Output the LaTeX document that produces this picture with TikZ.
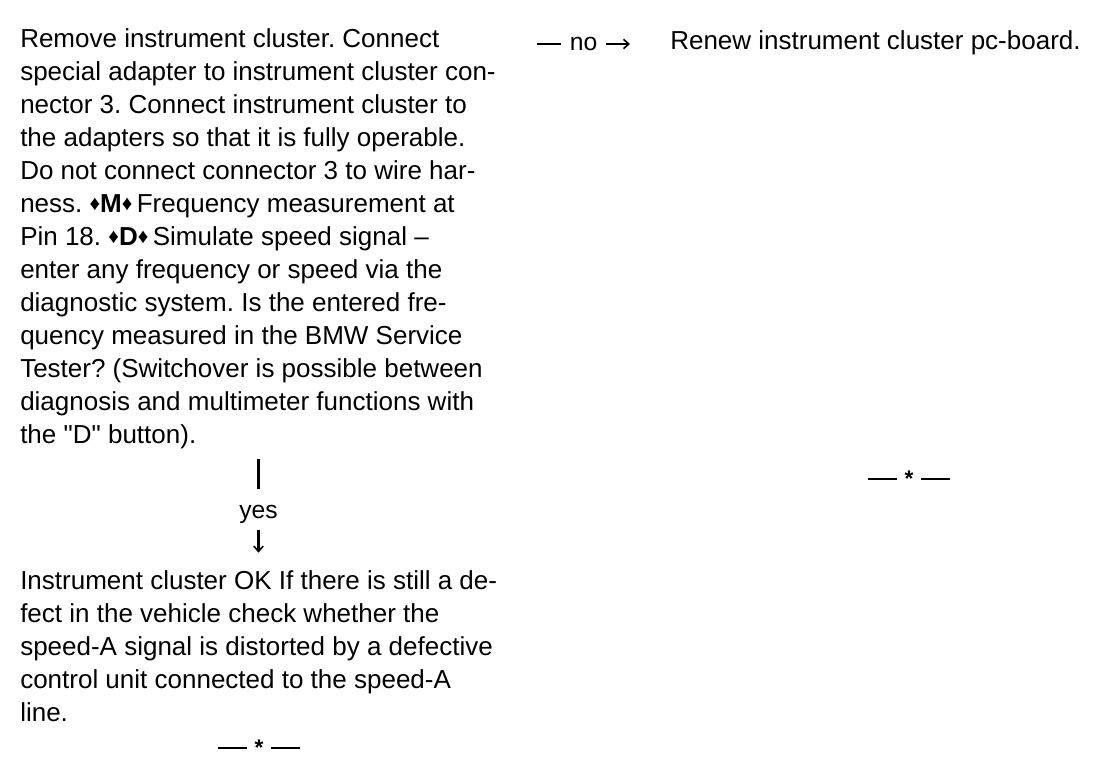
\documentclass[tikz,border=0pt]{standalone}
\usepackage{fontspec}
\setmainfont{Liberation Sans}
\usetikzlibrary{arrows.meta}
\newcommand\dmd{\raisebox{0.08em}{\scalebox{0.8}{♦}}}
\frenchspacing
\begin{document}
\begin{tikzpicture}[x=0.75pt,y=-0.75pt,
  txt/.style={font=\fontsize{19.5}{24.75}\selectfont, align=left, anchor=north west, inner sep=0pt},
  lbl/.style={font=\fontsize{18.5}{20}\selectfont, inner sep=0pt},
  conn/.style={line width=1.6pt},
  tip/.style={-{Straight Barb[length=4pt,width=7pt,line width=1.2pt]}},
  endmark/.style={font=\fontsize{17}{18}\selectfont\bfseries, inner sep=0pt},
  dashline/.style={line width=1.5pt}]
\useasboundingbox[fill=white] (0,0) rectangle (1120,772);

\node[txt] (q1) at (20,28) {Remove instrument cluster. Connect\\
special adapter to instrument cluster con-\\
nector 3. Connect instrument cluster to\\
the adapters so that it is fully operable.\\
Do not connect connector 3 to wire har-\\
ness. \dmd\textbf{M}\dmd\,Frequency measurement at\\
Pin 18. \dmd\textbf{D}\dmd\,Simulate speed signal –\\
enter any frequency or speed via the\\
diagnostic system. Is the entered fre-\\
quency measured in the BMW Service\\
Tester? (Switchover is possible between\\
diagnosis and multimeter functions with\\
the \textquotedbl D\textquotedbl{} button).};

\node[txt] (r1) at (670,30) {Renew instrument cluster pc-board.};

\node[txt] (r2) at (20,570) {Instrument cluster OK If there is still a de-\\
fect in the vehicle check whether the\\
speed-A signal is distorted by a defective\\
control unit connected to the speed-A\\
line.};

% no branch
\node[lbl, inner xsep=6.5pt] (no) at (583.5,44) {no};
\coordinate (noA) at (537,44);
\draw[dashline] (noA) -- (no.west);
\draw[conn,tip,shorten >=30pt] (no.east) -- (no.east -| r1.west);

% yes branch
\node[lbl] (yes) at (258.5,514) {yes};
\draw[conn,line width=2pt,shorten <=7.5pt,shorten >=12pt] (q1.south -| yes.north) -- (yes.north);
\draw[conn,tip,shorten <=5pt,shorten >=13pt] (yes.south) -- (yes.south |- r2.north);

% end markers
\node[endmark] (endA) at (909,479) {*};
\draw[dashline] ([xshift=-9pt]endA.center) -- ++(-22pt,0);
\draw[dashline] ([xshift=9pt]endA.center) -- ++(22pt,0);
\node[endmark] (endB) at (259,748) {*};
\draw[dashline] ([xshift=-9pt]endB.center) -- ++(-22pt,0);
\draw[dashline] ([xshift=9pt]endB.center) -- ++(22pt,0);
\end{tikzpicture}
\end{document}
